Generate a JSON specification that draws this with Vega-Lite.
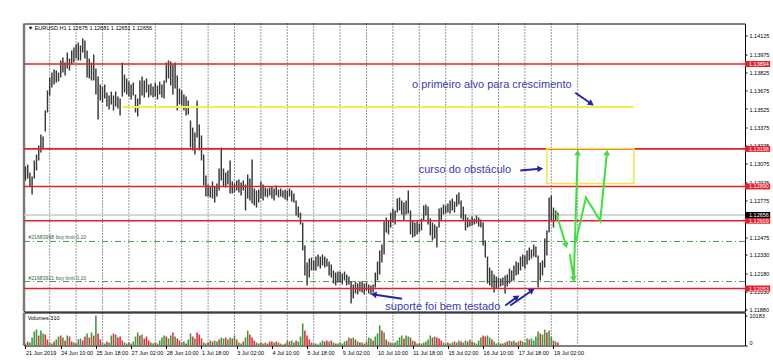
{
"$schema":"https://vega.github.io/schema/vega-lite/v6.json",
"padding":{"left":22,"top":21.5,"right":0,"bottom":0},
"background":"white",
"spacing":1,
"bounds":"flush",
"resolve":{"scale":{"color":"independent"}},
"config":{"view":{"stroke":"#000","strokeWidth":1},"font":"Liberation Sans","axis":{"labelOverlap":false,"labelFontSize":5.5,"labelColor":"#000"}},
"datasets":{
"bars":[
{"b":0,"h":1.13054,"l":1.12939,"v":679,"c":"g"},{"b":2,"h":1.1307,"l":1.12955,"v":1358,"c":"r"},{"b":4,"h":1.13004,"l":1.1289,"v":1018,"c":"g"},{"b":6,"h":1.12972,"l":1.12824,"v":2715,"c":"g"},{"b":8,"h":1.13103,"l":1.12955,"v":4752,"c":"g"},{"b":10,"h":1.13152,"l":1.13021,"v":5430,"c":"g"},{"b":12,"h":1.13226,"l":1.13103,"v":3394,"c":"r"},{"b":14,"h":1.13316,"l":1.13168,"v":5091,"c":"g"},{"b":16,"h":1.133,"l":1.13201,"v":4073,"c":"g"},{"b":18,"h":1.13513,"l":1.1334,"v":3733,"c":"r"},
{"b":20,"h":1.13677,"l":1.13496,"v":2036,"c":"r"},{"b":22,"h":1.13783,"l":1.13636,"v":1018,"c":"g"},{"b":24,"h":1.13824,"l":1.13701,"v":679,"c":"g"},{"b":26,"h":1.13849,"l":1.13726,"v":1358,"c":"r"},{"b":28,"h":1.13841,"l":1.13742,"v":2036,"c":"g"},{"b":30,"h":1.13824,"l":1.1375,"v":3055,"c":"g"},{"b":32,"h":1.13923,"l":1.13783,"v":3394,"c":"r"},{"b":34,"h":1.13947,"l":1.13824,"v":2715,"c":"g"},{"b":36,"h":1.13906,"l":1.138,"v":1697,"c":"r"},{"b":38,"h":1.13988,"l":1.13857,"v":3394,"c":"g"},
{"b":40,"h":1.13939,"l":1.13841,"v":3055,"c":"r"},{"b":42,"h":1.14005,"l":1.1389,"v":1358,"c":"r"},{"b":44,"h":1.14029,"l":1.13906,"v":1018,"c":"g"},{"b":46,"h":1.14054,"l":1.13939,"v":679,"c":"r"},{"b":48,"h":1.1407,"l":1.13923,"v":2036,"c":"g"},{"b":50,"h":1.14046,"l":1.13923,"v":2376,"c":"g"},{"b":52,"h":1.14103,"l":1.13988,"v":1697,"c":"r"},{"b":54,"h":1.14087,"l":1.13939,"v":3055,"c":"r"},{"b":56,"h":1.14005,"l":1.13783,"v":4073,"c":"g"},{"b":58,"h":1.13939,"l":1.13775,"v":2715,"c":"r"},
{"b":60,"h":1.13906,"l":1.13759,"v":4412,"c":"g"},{"b":62,"h":1.13972,"l":1.13759,"v":3394,"c":"r"},{"b":64,"h":1.13857,"l":1.13644,"v":10183,"c":"g"},{"b":66,"h":1.13792,"l":1.13439,"v":4073,"c":"r"},{"b":68,"h":1.13726,"l":1.13595,"v":2036,"c":"r"},{"b":70,"h":1.1371,"l":1.13578,"v":1018,"c":"g"},{"b":72,"h":1.13726,"l":1.13611,"v":679,"c":"g"},{"b":74,"h":1.1366,"l":1.13545,"v":1358,"c":"r"},{"b":76,"h":1.13636,"l":1.13521,"v":1018,"c":"g"},{"b":78,"h":1.13668,"l":1.13562,"v":3394,"c":"g"},
{"b":80,"h":1.13636,"l":1.13513,"v":4073,"c":"r"},{"b":82,"h":1.13668,"l":1.13545,"v":3733,"c":"g"},{"b":84,"h":1.13627,"l":1.13529,"v":2715,"c":"r"},{"b":86,"h":1.13611,"l":1.13472,"v":3055,"c":"r"},{"b":88,"h":1.13906,"l":1.13627,"v":1697,"c":"r"},{"b":90,"h":1.13808,"l":1.1366,"v":1018,"c":"g"},{"b":92,"h":1.13775,"l":1.13644,"v":679,"c":"g"},{"b":94,"h":1.1375,"l":1.13627,"v":1018,"c":"r"},{"b":96,"h":1.13726,"l":1.13603,"v":679,"c":"g"},{"b":98,"h":1.13742,"l":1.13636,"v":1358,"c":"g"},
{"b":100,"h":1.13644,"l":1.13496,"v":3055,"c":"g"},{"b":102,"h":1.13611,"l":1.13464,"v":4412,"c":"g"},{"b":104,"h":1.13759,"l":1.13562,"v":3394,"c":"r"},{"b":106,"h":1.13792,"l":1.13636,"v":3733,"c":"g"},{"b":108,"h":1.13759,"l":1.13619,"v":2376,"c":"r"},{"b":110,"h":1.13775,"l":1.1366,"v":3055,"c":"r"},{"b":112,"h":1.13726,"l":1.13619,"v":1697,"c":"r"},{"b":114,"h":1.13734,"l":1.13636,"v":1018,"c":"g"},{"b":116,"h":1.1371,"l":1.13619,"v":679,"c":"g"},{"b":118,"h":1.13742,"l":1.13627,"v":1018,"c":"r"},
{"b":120,"h":1.13718,"l":1.13603,"v":679,"c":"g"},{"b":122,"h":1.1375,"l":1.13644,"v":1697,"c":"g"},{"b":124,"h":1.13726,"l":1.13619,"v":2715,"c":"g"},{"b":126,"h":1.13759,"l":1.13611,"v":3394,"c":"g"},{"b":128,"h":1.13906,"l":1.13742,"v":3055,"c":"r"},{"b":130,"h":1.13923,"l":1.13775,"v":2376,"c":"g"},{"b":132,"h":1.13915,"l":1.13718,"v":3394,"c":"g"},{"b":134,"h":1.1389,"l":1.13644,"v":4412,"c":"r"},{"b":136,"h":1.13906,"l":1.13693,"v":3055,"c":"g"},{"b":138,"h":1.138,"l":1.13513,"v":2376,"c":"r"},
{"b":140,"h":1.13693,"l":1.13562,"v":1697,"c":"r"},{"b":142,"h":1.13677,"l":1.13554,"v":1018,"c":"g"},{"b":144,"h":1.13644,"l":1.13513,"v":1358,"c":"g"},{"b":146,"h":1.13627,"l":1.13472,"v":679,"c":"r"},{"b":148,"h":1.13595,"l":1.1348,"v":2036,"c":"g"},{"b":150,"h":1.13431,"l":1.13209,"v":4073,"c":"g"},{"b":152,"h":1.13373,"l":1.13185,"v":3055,"c":"r"},{"b":154,"h":1.13332,"l":1.13152,"v":2376,"c":"g"},{"b":156,"h":1.13595,"l":1.13291,"v":4412,"c":"r"},{"b":158,"h":1.13398,"l":1.13185,"v":3733,"c":"r"},
{"b":160,"h":1.13308,"l":1.13103,"v":2376,"c":"r"},{"b":162,"h":1.13152,"l":1.12898,"v":1018,"c":"g"},{"b":164,"h":1.1298,"l":1.12807,"v":679,"c":"g"},{"b":166,"h":1.12906,"l":1.12807,"v":1018,"c":"r"},{"b":168,"h":1.1289,"l":1.12799,"v":1697,"c":"g"},{"b":170,"h":1.12931,"l":1.12791,"v":1358,"c":"r"},{"b":172,"h":1.1289,"l":1.12758,"v":1697,"c":"g"},{"b":174,"h":1.12914,"l":1.12807,"v":1358,"c":"g"},{"b":176,"h":1.13037,"l":1.12857,"v":2036,"c":"r"},{"b":178,"h":1.13209,"l":1.12939,"v":2715,"c":"g"},
{"b":180,"h":1.13037,"l":1.1289,"v":2376,"c":"g"},{"b":182,"h":1.13004,"l":1.12881,"v":2715,"c":"r"},{"b":184,"h":1.13021,"l":1.12906,"v":2036,"c":"g"},{"b":186,"h":1.13103,"l":1.12832,"v":2715,"c":"g"},{"b":188,"h":1.12931,"l":1.12832,"v":2376,"c":"r"},{"b":190,"h":1.12914,"l":1.1284,"v":3394,"c":"g"},{"b":192,"h":1.12939,"l":1.12857,"v":2036,"c":"r"},{"b":194,"h":1.12947,"l":1.1284,"v":1018,"c":"g"},{"b":196,"h":1.12922,"l":1.12816,"v":679,"c":"g"},{"b":198,"h":1.12939,"l":1.12857,"v":1358,"c":"r"},
{"b":200,"h":1.12906,"l":1.12693,"v":2715,"c":"g"},{"b":202,"h":1.12988,"l":1.12791,"v":5091,"c":"g"},{"b":204,"h":1.12955,"l":1.12775,"v":3733,"c":"r"},{"b":206,"h":1.13111,"l":1.1275,"v":2715,"c":"r"},{"b":208,"h":1.12873,"l":1.12734,"v":1697,"c":"r"},{"b":210,"h":1.12857,"l":1.12717,"v":1018,"c":"g"},{"b":212,"h":1.12865,"l":1.12758,"v":679,"c":"g"},{"b":214,"h":1.12931,"l":1.12791,"v":1018,"c":"r"},{"b":216,"h":1.12906,"l":1.12775,"v":679,"c":"g"},{"b":218,"h":1.12881,"l":1.12807,"v":1018,"c":"g"},
{"b":220,"h":1.12873,"l":1.12799,"v":679,"c":"r"},{"b":222,"h":1.12881,"l":1.12816,"v":1358,"c":"r"},{"b":224,"h":1.1289,"l":1.12791,"v":1358,"c":"r"},{"b":226,"h":1.12873,"l":1.12775,"v":1018,"c":"g"},{"b":228,"h":1.12898,"l":1.12816,"v":1358,"c":"r"},{"b":230,"h":1.12865,"l":1.12799,"v":1018,"c":"r"},{"b":232,"h":1.12873,"l":1.12807,"v":679,"c":"g"},{"b":234,"h":1.12857,"l":1.12799,"v":339,"c":"g"},{"b":236,"h":1.12865,"l":1.12783,"v":679,"c":"r"},{"b":238,"h":1.12857,"l":1.12775,"v":1697,"c":"g"},
{"b":240,"h":1.12873,"l":1.12807,"v":1358,"c":"r"},{"b":242,"h":1.12857,"l":1.12766,"v":1697,"c":"g"},{"b":244,"h":1.12832,"l":1.12758,"v":1018,"c":"g"},{"b":246,"h":1.12775,"l":1.12652,"v":1697,"c":"r"},{"b":248,"h":1.12725,"l":1.12635,"v":1358,"c":"g"},{"b":250,"h":1.12676,"l":1.12578,"v":3055,"c":"g"},{"b":252,"h":1.12594,"l":1.12365,"v":7467,"c":"g"},{"b":254,"h":1.12406,"l":1.1216,"v":5091,"c":"r"},{"b":256,"h":1.12266,"l":1.12078,"v":3394,"c":"r"},{"b":258,"h":1.12299,"l":1.12143,"v":2036,"c":"r"},
{"b":260,"h":1.12307,"l":1.12201,"v":1018,"c":"r"},{"b":262,"h":1.12283,"l":1.12201,"v":679,"c":"g"},{"b":264,"h":1.12315,"l":1.12201,"v":679,"c":"g"},{"b":266,"h":1.12332,"l":1.12233,"v":339,"c":"r"},{"b":268,"h":1.12315,"l":1.12217,"v":1018,"c":"g"},{"b":270,"h":1.12332,"l":1.12242,"v":1697,"c":"g"},{"b":272,"h":1.12315,"l":1.12225,"v":1358,"c":"r"},{"b":274,"h":1.12299,"l":1.12233,"v":1697,"c":"r"},{"b":276,"h":1.12274,"l":1.1216,"v":1358,"c":"g"},{"b":278,"h":1.1225,"l":1.12143,"v":1697,"c":"r"},
{"b":280,"h":1.12201,"l":1.12094,"v":1018,"c":"g"},{"b":282,"h":1.12184,"l":1.12078,"v":679,"c":"r"},{"b":284,"h":1.12192,"l":1.12102,"v":679,"c":"g"},{"b":286,"h":1.12192,"l":1.12102,"v":1018,"c":"g"},{"b":288,"h":1.12176,"l":1.12086,"v":679,"c":"g"},{"b":290,"h":1.12192,"l":1.12119,"v":1358,"c":"g"},{"b":292,"h":1.12168,"l":1.12078,"v":1697,"c":"r"},{"b":294,"h":1.12151,"l":1.12086,"v":2715,"c":"g"},{"b":296,"h":1.1211,"l":1.1193,"v":2376,"c":"r"},{"b":298,"h":1.12086,"l":1.11971,"v":2715,"c":"g"},
{"b":300,"h":1.1211,"l":1.12012,"v":2036,"c":"r"},{"b":302,"h":1.12094,"l":1.12004,"v":1358,"c":"g"},{"b":304,"h":1.1211,"l":1.12029,"v":1018,"c":"r"},{"b":306,"h":1.1211,"l":1.1202,"v":1018,"c":"g"},{"b":308,"h":1.12094,"l":1.12004,"v":679,"c":"g"},{"b":310,"h":1.12102,"l":1.12037,"v":1358,"c":"r"},{"b":312,"h":1.12086,"l":1.12012,"v":2715,"c":"g"},{"b":314,"h":1.12078,"l":1.12004,"v":2376,"c":"g"},{"b":316,"h":1.12086,"l":1.1202,"v":1697,"c":"r"},{"b":318,"h":1.12184,"l":1.12061,"v":3055,"c":"g"},
{"b":320,"h":1.12274,"l":1.12119,"v":4073,"c":"g"},{"b":322,"h":1.12365,"l":1.12168,"v":6788,"c":"g"},{"b":324,"h":1.12414,"l":1.12266,"v":5091,"c":"r"},{"b":326,"h":1.12602,"l":1.12332,"v":4412,"c":"g"},{"b":328,"h":1.12635,"l":1.12512,"v":2036,"c":"r"},{"b":330,"h":1.12611,"l":1.12496,"v":1358,"c":"g"},{"b":332,"h":1.12676,"l":1.12553,"v":1018,"c":"r"},{"b":334,"h":1.12709,"l":1.12594,"v":679,"c":"g"},{"b":336,"h":1.12693,"l":1.12578,"v":1018,"c":"g"},{"b":338,"h":1.12791,"l":1.12676,"v":1697,"c":"g"},
{"b":340,"h":1.12799,"l":1.12693,"v":2715,"c":"g"},{"b":342,"h":1.12775,"l":1.1266,"v":3394,"c":"g"},{"b":344,"h":1.12758,"l":1.12611,"v":2376,"c":"r"},{"b":346,"h":1.12775,"l":1.1266,"v":3394,"c":"g"},{"b":348,"h":1.12857,"l":1.12668,"v":3055,"c":"g"},{"b":350,"h":1.12693,"l":1.12496,"v":2715,"c":"r"},{"b":352,"h":1.12611,"l":1.12471,"v":1697,"c":"g"},{"b":354,"h":1.12594,"l":1.1248,"v":1358,"c":"r"},{"b":356,"h":1.12602,"l":1.12496,"v":679,"c":"g"},{"b":358,"h":1.12586,"l":1.12512,"v":679,"c":"r"},
{"b":360,"h":1.12627,"l":1.12529,"v":679,"c":"g"},{"b":362,"h":1.12734,"l":1.12611,"v":1018,"c":"g"},{"b":364,"h":1.12742,"l":1.12652,"v":1358,"c":"g"},{"b":366,"h":1.12725,"l":1.12578,"v":2036,"c":"g"},{"b":368,"h":1.12627,"l":1.12488,"v":3394,"c":"g"},{"b":370,"h":1.12594,"l":1.12447,"v":2715,"c":"r"},{"b":372,"h":1.12578,"l":1.12463,"v":3055,"c":"g"},{"b":374,"h":1.12561,"l":1.12389,"v":2715,"c":"r"},{"b":376,"h":1.12709,"l":1.12553,"v":2376,"c":"r"},{"b":378,"h":1.12717,"l":1.12611,"v":1697,"c":"r"},
{"b":380,"h":1.12742,"l":1.1266,"v":1018,"c":"g"},{"b":382,"h":1.12734,"l":1.12668,"v":679,"c":"g"},{"b":384,"h":1.1275,"l":1.12676,"v":1018,"c":"r"},{"b":386,"h":1.12775,"l":1.12668,"v":679,"c":"g"},{"b":388,"h":1.12791,"l":1.12693,"v":1018,"c":"g"},{"b":390,"h":1.12766,"l":1.12676,"v":1358,"c":"r"},{"b":392,"h":1.12824,"l":1.12725,"v":1018,"c":"g"},{"b":394,"h":1.1284,"l":1.12742,"v":1697,"c":"g"},{"b":396,"h":1.12775,"l":1.12627,"v":1358,"c":"r"},{"b":398,"h":1.12725,"l":1.12611,"v":1018,"c":"g"},
{"b":400,"h":1.1266,"l":1.12529,"v":1697,"c":"g"},{"b":402,"h":1.12635,"l":1.12553,"v":1358,"c":"r"},{"b":404,"h":1.12619,"l":1.12561,"v":2036,"c":"g"},{"b":406,"h":1.12644,"l":1.1257,"v":1358,"c":"r"},{"b":408,"h":1.12627,"l":1.12578,"v":1018,"c":"g"},{"b":410,"h":1.12652,"l":1.12586,"v":679,"c":"g"},{"b":412,"h":1.12635,"l":1.12561,"v":1697,"c":"g"},{"b":414,"h":1.12619,"l":1.12553,"v":2715,"c":"g"},{"b":416,"h":1.12594,"l":1.12406,"v":3394,"c":"r"},{"b":418,"h":1.12447,"l":1.12307,"v":3055,"c":"r"},
{"b":420,"h":1.12315,"l":1.12094,"v":3394,"c":"g"},{"b":422,"h":1.12225,"l":1.12078,"v":2715,"c":"g"},{"b":424,"h":1.12201,"l":1.12061,"v":2036,"c":"r"},{"b":426,"h":1.12168,"l":1.1202,"v":1358,"c":"g"},{"b":428,"h":1.12151,"l":1.12053,"v":679,"c":"g"},{"b":430,"h":1.12143,"l":1.12061,"v":1018,"c":"g"},{"b":432,"h":1.12135,"l":1.1207,"v":679,"c":"r"},{"b":434,"h":1.12143,"l":1.12078,"v":679,"c":"g"},{"b":436,"h":1.1216,"l":1.12012,"v":1018,"c":"g"},{"b":438,"h":1.12168,"l":1.1207,"v":1358,"c":"r"},
{"b":440,"h":1.12217,"l":1.12094,"v":1697,"c":"g"},{"b":442,"h":1.12201,"l":1.1211,"v":1358,"c":"r"},{"b":444,"h":1.12242,"l":1.12119,"v":1697,"c":"g"},{"b":446,"h":1.12274,"l":1.1216,"v":1018,"c":"r"},{"b":448,"h":1.12266,"l":1.12168,"v":1358,"c":"g"},{"b":450,"h":1.12315,"l":1.12201,"v":1697,"c":"r"},{"b":452,"h":1.12332,"l":1.12233,"v":1358,"c":"g"},{"b":454,"h":1.12324,"l":1.12217,"v":1018,"c":"g"},{"b":456,"h":1.12365,"l":1.1225,"v":2376,"c":"g"},{"b":458,"h":1.12389,"l":1.12283,"v":2036,"c":"r"},
{"b":460,"h":1.12373,"l":1.12299,"v":2376,"c":"g"},{"b":462,"h":1.12414,"l":1.12315,"v":1697,"c":"g"},{"b":464,"h":1.12397,"l":1.12307,"v":3055,"c":"g"},{"b":466,"h":1.12324,"l":1.12061,"v":4752,"c":"g"},{"b":468,"h":1.12266,"l":1.12119,"v":4073,"c":"r"},{"b":470,"h":1.12283,"l":1.1216,"v":3733,"c":"g"},{"b":472,"h":1.12463,"l":1.12225,"v":5430,"c":"g"},{"b":474,"h":1.12529,"l":1.12324,"v":4412,"c":"r"},{"b":476,"h":1.12799,"l":1.12512,"v":5091,"c":"g"},{"b":478,"h":1.12816,"l":1.12611,"v":3055,"c":"g"},
{"b":480,"h":1.12717,"l":1.12553,"v":1697,"c":"r"},{"b":482,"h":1.12693,"l":1.12611,"v":1358,"c":"g"},{"b":484,"h":1.12676,"l":1.12644,"v":1018,"c":"r"}
],
"days":[{"b":22},{"b":46},{"b":70},{"b":94},{"b":118},{"b":142},{"b":166},{"b":190},{"b":214},{"b":238},{"b":262},{"b":286},{"b":310},{"b":334},{"b":358},{"b":382},{"b":406},{"b":430},{"b":454},{"b":478},{"b":502}],
"reds":[{"p":1.13894},{"p":1.13198},{"p":1.1289},{"p":1.12609},{"p":1.12053}],
"orders":[{"p":1.12439,"t":"#21683998 buy limit 0.10"},{"p":1.1211,"t":"#21683921 buy limit 0.10"}],
"boxes":[{"p":1.13894,"k":"r"},{"p":1.13198,"k":"r"},{"p":1.1289,"k":"r"},{"p":1.12609,"k":"r"},{"p":1.12053,"k":"r"},{"p":1.12656,"k":"k"}],
"notes":[{"b":351.4,"p":1.13718,"t":"o primeiro alvo para crescimento"},{"b":357.5,"p":1.13021,"t":"curso do obstáculo"},{"b":327.1,"p":1.11901,"t":"suporte foi bem testado"}],
"arrows":[
{"g":"A","o":1,"b":499.8,"p":1.13658,"k":"blue"},{"g":"A","o":2,"b":514.4,"p":1.13568,"k":"blue"},
{"g":"B","o":1,"b":449.8,"p":1.13021,"k":"blue"},{"g":"B","o":2,"b":468,"p":1.13035,"k":"blue"},
{"g":"C","o":1,"b":342.3,"p":1.11969,"k":"blue"},{"g":"C","o":2,"b":316.5,"p":1.12004,"k":"blue"},
{"g":"D","o":1,"b":436.2,"p":1.11914,"k":"blue"},{"g":"D","o":2,"b":446.8,"p":1.11982,"k":"blue"},
{"g":"E","o":1,"b":440.7,"p":1.11914,"k":"blue"},{"g":"E","o":2,"b":460.5,"p":1.12037,"k":"blue"},
{"g":"G1","o":1,"b":482.3,"p":1.12676,"k":"green"},{"g":"G1","o":2,"b":491.4,"p":1.12406,"k":"green"},
{"g":"G2","o":1,"b":494.8,"p":1.12335,"k":"green"},{"g":"G2","o":2,"b":498.4,"p":1.1213,"k":"green"},
{"g":"G3","o":1,"b":498.4,"p":1.1213,"k":"green"},{"g":"G3","o":2,"b":502,"p":1.13168,"k":"green"},
{"g":"G4","o":1,"b":499.8,"p":1.12417,"k":"green"},{"g":"G4","o":2,"b":509.5,"p":1.12799,"k":"green"},{"g":"G4","o":3,"b":522.5,"p":1.12608,"k":"green"},{"g":"G4","o":4,"b":528.6,"p":1.13168,"k":"green"}
],
"heads":[
{"b":514.4,"p":1.13568,"a":124.5,"k":"blue"},{"b":468,"p":1.13035,"a":85,"k":"blue"},{"b":316.5,"p":1.12004,"a":278.6,"k":"blue"},{"b":446.8,"p":1.11982,"a":54.6,"k":"blue"},{"b":460.5,"p":1.12037,"a":55.3,"k":"blue"},
{"b":491.4,"p":1.12406,"a":163,"k":"green"},{"b":498.4,"p":1.1213,"a":170,"k":"green"},{"b":502,"p":1.13168,"a":1.8,"k":"green"},{"b":528.6,"p":1.13168,"a":5.6,"k":"green"}
]
},
"vconcat":[
{
"width":721,"height":288,
"layer":[
{"data":{"name":"days"},"mark":{"type":"rule","color":"#000","strokeDash":[1,2],"strokeWidth":1,"opacity":0.8},
 "encoding":{"x":{"field":"b","type":"quantitative","scale":{"domain":[-1.36,654.1],"nice":false,"zero":false},"axis":null}}},
{"data":{"values":[{"b":-1.36}]},"mark":{"type":"rule","color":"#7a7a7a","strokeWidth":2.5},
 "encoding":{"x":{"field":"b","type":"quantitative","scale":{"domain":[-1.36,654.1],"nice":false,"zero":false},"axis":null}}},
{"data":{"values":[{"p":1.12656}]},"mark":{"type":"rule","color":"#c8c8c8","strokeWidth":1.5},
 "encoding":{"y":{"field":"p","type":"quantitative","scale":{"domain":[1.118645,1.142261],"nice":false,"zero":false}}}},
{"data":{"name":"orders"},"mark":{"type":"rule","color":"#4a9a4a","strokeWidth":1,"strokeDash":[6,3,1,3]},
 "encoding":{"y":{"field":"p","type":"quantitative","scale":{"domain":[1.118645,1.142261],"nice":false,"zero":false}}}},
{"data":{"name":"orders"},"mark":{"type":"text","align":"left","baseline":"middle","fontSize":5.2,"color":"#3d5f3d","dy":-4},
 "encoding":{"x":{"datum":2.5,"scale":{"domain":[-1.36,654.1],"nice":false,"zero":false},"axis":null},"y":{"field":"p","type":"quantitative","scale":{"domain":[1.118645,1.142261],"nice":false,"zero":false}},"text":{"field":"t"}}},
{"data":{"name":"bars"},"mark":{"type":"rule","color":"#383838","strokeWidth":1.45},
 "encoding":{
  "x":{"field":"b","type":"quantitative","scale":{"domain":[-1.36,654.1],"nice":false,"zero":false},"axis":null},
  "y":{"field":"h","type":"quantitative","scale":{"domain":[1.118645,1.142261],"nice":false,"zero":false},
   "axis":{"orient":"right","values":[1.14125,1.13975,1.13825,1.13675,1.13525,1.13375,1.13225,1.13075,1.12925,1.12775,1.12625,1.12475,1.1233,1.1218,1.1203,1.1188],"tickCount":40,"format":".5f","title":null,"grid":false,"domain":false,"ticks":true,"tickSize":2,"tickColor":"#000","labelFontSize":5.5,"labelColor":"#000","labelPadding":2,"labelOverlap":false,"labelFlush":false}},
  "y2":{"field":"l"}}},
{"data":{"name":"reds"},"mark":{"type":"rule","color":"#e0202c","strokeWidth":1.6},
 "encoding":{"y":{"field":"p","type":"quantitative","scale":{"domain":[1.118645,1.142261],"nice":false,"zero":false}}}},
{"data":{"values":[{"x1":88,"x2":553,"p":1.13541}]},"mark":{"type":"rule","color":"#f2f048","strokeWidth":2},
 "encoding":{"x":{"field":"x1","type":"quantitative","scale":{"domain":[-1.36,654.1],"nice":false,"zero":false},"axis":null},"x2":{"field":"x2"},"y":{"field":"p","type":"quantitative","scale":{"domain":[1.118645,1.142261],"nice":false,"zero":false}}}},
{"data":{"values":[{"x1":474,"x2":553,"p1":1.13201,"p2":1.12914}]},"mark":{"type":"rect","fillOpacity":0,"stroke":"#f0e840","strokeWidth":1.5},
 "encoding":{"x":{"field":"x1","type":"quantitative","scale":{"domain":[-1.36,654.1],"nice":false,"zero":false},"axis":null},"x2":{"field":"x2"},"y":{"field":"p1","type":"quantitative","scale":{"domain":[1.118645,1.142261],"nice":false,"zero":false}},"y2":{"field":"p2"}}},
{"data":{"name":"arrows"},"transform":[{"filter":"datum.k == 'blue'"}],"mark":{"type":"line","strokeWidth":2,"color":"#2424a8"},
 "encoding":{"x":{"field":"b","type":"quantitative","scale":{"domain":[-1.36,654.1],"nice":false,"zero":false},"axis":null},"y":{"field":"p","type":"quantitative","scale":{"domain":[1.118645,1.142261],"nice":false,"zero":false}},"detail":{"field":"g","type":"nominal"},"order":{"field":"o","type":"quantitative"}}},
{"data":{"name":"arrows"},"transform":[{"filter":"datum.k == 'green'"}],"mark":{"type":"line","strokeWidth":2,"color":"#3ee03e"},
 "encoding":{"x":{"field":"b","type":"quantitative","scale":{"domain":[-1.36,654.1],"nice":false,"zero":false},"axis":null},"y":{"field":"p","type":"quantitative","scale":{"domain":[1.118645,1.142261],"nice":false,"zero":false}},"detail":{"field":"g","type":"nominal"},"order":{"field":"o","type":"quantitative"}}},
{"data":{"name":"heads"},"transform":[{"filter":"datum.k == 'blue'"}],"mark":{"type":"point","shape":"triangle-up","filled":true,"size":45,"opacity":1,"color":"#2424a8"},
 "encoding":{"x":{"field":"b","type":"quantitative","scale":{"domain":[-1.36,654.1],"nice":false,"zero":false},"axis":null},"y":{"field":"p","type":"quantitative","scale":{"domain":[1.118645,1.142261],"nice":false,"zero":false}},"angle":{"field":"a","type":"quantitative","scale":null}}},
{"data":{"name":"heads"},"transform":[{"filter":"datum.k == 'green'"}],"mark":{"type":"point","shape":"triangle-up","filled":true,"size":45,"opacity":1,"color":"#3ee03e"},
 "encoding":{"x":{"field":"b","type":"quantitative","scale":{"domain":[-1.36,654.1],"nice":false,"zero":false},"axis":null},"y":{"field":"p","type":"quantitative","scale":{"domain":[1.118645,1.142261],"nice":false,"zero":false}},"angle":{"field":"a","type":"quantitative","scale":null}}},
{"data":{"name":"notes"},"mark":{"type":"text","align":"left","baseline":"middle","fontSize":11,"color":"#3a3ab8","font":"Liberation Sans"},
 "encoding":{"x":{"field":"b","type":"quantitative","scale":{"domain":[-1.36,654.1],"nice":false,"zero":false},"axis":null},"y":{"field":"p","type":"quantitative","scale":{"domain":[1.118645,1.142261],"nice":false,"zero":false}},"text":{"field":"t"}}},
{"data":{"values":[{"t":"▼ EURUSD,H1  1.12675 1.12681 1.12651 1.12656"}]},"mark":{"type":"text","align":"left","baseline":"middle","fontSize":5.5,"color":"#000"},
 "encoding":{"x":{"datum":2,"scale":{"domain":[-1.36,654.1],"nice":false,"zero":false},"axis":null},"y":{"datum":1.14189,"scale":{"domain":[1.118645,1.142261],"nice":false,"zero":false}},"text":{"field":"t"}}},
{"data":{"name":"boxes"},"transform":[{"filter":"datum.k == 'r'"}],"mark":{"type":"rule","strokeWidth":6,"strokeCap":"butt","color":"#e3202c"},
 "encoding":{"x":{"datum":654.1,"scale":{"domain":[-1.36,654.1],"nice":false,"zero":false},"axis":null},"x2":{"datum":677},"y":{"field":"p","type":"quantitative","scale":{"domain":[1.118645,1.142261],"nice":false,"zero":false}}}},
{"data":{"name":"boxes"},"transform":[{"filter":"datum.k == 'k'"}],"mark":{"type":"rule","strokeWidth":6,"strokeCap":"butt","color":"#000000"},
 "encoding":{"x":{"datum":654.1,"scale":{"domain":[-1.36,654.1],"nice":false,"zero":false},"axis":null},"x2":{"datum":677},"y":{"field":"p","type":"quantitative","scale":{"domain":[1.118645,1.142261],"nice":false,"zero":false}}}},
{"data":{"name":"boxes"},"mark":{"type":"text","align":"left","baseline":"middle","fontSize":5.5,"color":"#fff","dx":4},
 "encoding":{"x":{"datum":654.1,"scale":{"domain":[-1.36,654.1],"nice":false,"zero":false},"axis":null},"y":{"field":"p","type":"quantitative","scale":{"domain":[1.118645,1.142261],"nice":false,"zero":false}},"text":{"field":"p","type":"quantitative","format":".5f"}}}
]
},
{
"width":721,"height":33,
"layer":[
{"data":{"name":"days"},"mark":{"type":"rule","color":"#000","strokeDash":[1,2],"strokeWidth":1,"opacity":0.8},
 "encoding":{"x":{"field":"b","type":"quantitative","scale":{"domain":[-1.36,654.1],"nice":false,"zero":false}}}},
{"data":{"values":[{"b":-1.36}]},"mark":{"type":"rule","color":"#7a7a7a","strokeWidth":2.5},
 "encoding":{"x":{"field":"b","type":"quantitative","scale":{"domain":[-1.36,654.1],"nice":false,"zero":false}}}},
{"data":{"name":"bars"},"mark":{"type":"rule","strokeWidth":1.6},
 "encoding":{
  "x":{"field":"b","type":"quantitative","scale":{"domain":[-1.36,654.1],"nice":false,"zero":false},
   "axis":{"orient":"bottom","values":[0,32,64,96,128,160,192,224,256,288,320,352,384,416,448,480],"tickCount":40,"labelExpr":"['21 Jun 2019','24 Jun 10:00','25 Jun 18:00','27 Jun 02:00','28 Jun 10:00','1 Jul 18:00','3 Jul 02:00','4 Jul 10:00','5 Jul 18:00','9 Jul 02:00','10 Jul 10:00','11 Jul 18:00','15 Jul 02:00','16 Jul 10:00','17 Jul 18:00','19 Jul 02:00'][round(datum.value/32)]","labelAlign":"left","labelFlush":false,"labelOverlap":false,"labelFontSize":5.5,"labelColor":"#000","tickSize":3,"tickColor":"#000","domain":false,"grid":false,"title":null,"labelPadding":2}},
  "y":{"field":"v","type":"quantitative","scale":{"domain":[0,11200],"nice":false,"zero":true},
   "axis":{"orient":"right","values":[0,10183],"tickCount":5,"format":"d","title":null,"grid":false,"domain":false,"tickSize":2,"tickColor":"#000","labelFontSize":5.5,"labelColor":"#000","labelPadding":2,"labelFlush":true,"labelOverlap":false}},
  "y2":{"datum":0},
  "color":{"field":"c","type":"nominal","scale":{"domain":["g","r"],"range":["#3f9a3f","#e0303c"]},"legend":null}}},
{"data":{"values":[{"t":"Volumes 310"}]},"mark":{"type":"text","align":"left","baseline":"middle","fontSize":5.5,"color":"#000"},
 "encoding":{"x":{"datum":2,"scale":{"domain":[-1.36,654.1],"nice":false,"zero":false}},"y":{"datum":9400,"scale":{"domain":[0,11200],"nice":false,"zero":true}},"text":{"field":"t"}}}
]
}
]
}
